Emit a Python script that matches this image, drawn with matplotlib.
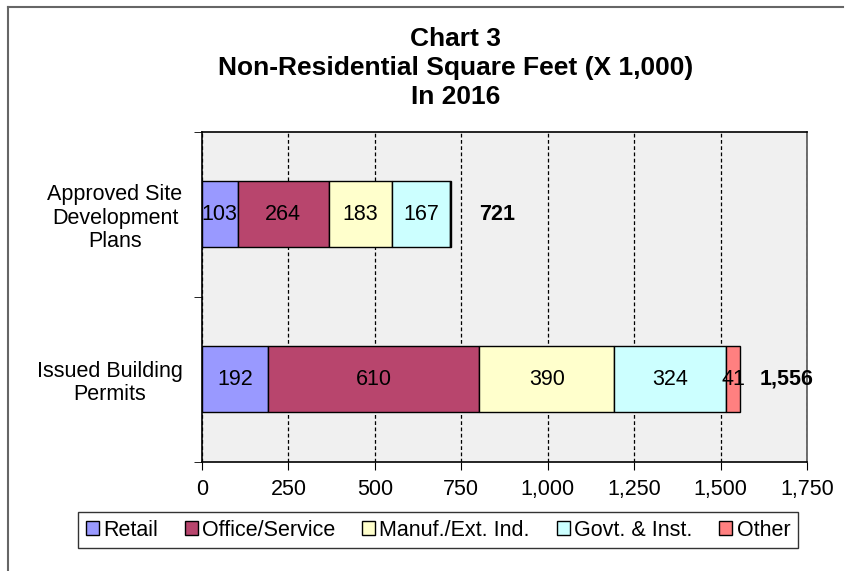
" chart 3: non-residential square feet by category, 2016 "
import numpy as np
import matplotlib.pyplot as plt
from matplotlib.lines import Line2D

plt.rcParams.update({'font.family': ['Liberation Sans', 'DejaVu Sans']})

categories = ["Issued Building\nPermits", "Approved Site\nDevelopment\nPlans"]
series = ["Retail", "Office/Service", "Manuf./Ext. Ind.", "Govt. & Inst.", "Other"]
retail = [192, 103]
office = [610, 264]
manuf = [390, 183]
govt = [324, 167]
other = [41, 4]
totals = ["1,556", "721"]
xticks = [0, 250, 500, 750, 1000, 1250, 1500, 1750]

clrs = ["#9999ff", "#b8456d", "#ffffcc", "#ccffff", "#ff8080"]

fig = plt.figure(figsize=(8.53, 5.71), dpi=100)
ax = fig.add_axes([0.2368, 0.1909, 0.7093, 0.578])
ax.set_facecolor("#f0f0f0")

y = np.arange(len(categories))
left = np.zeros(len(categories))
for name, vals, c in zip(series, [retail, office, manuf, govt, other], clrs):
    vals = np.array(vals, dtype=float)
    ax.barh(y, vals, left=left, height=0.4, color=c, edgecolor="black",
            linewidth=1, label=name, zorder=3)
    for yi, v, l in zip(y, vals, left):
        if v >= 10:
            ax.text(l + v / 2, yi, "%d" % v, ha="center", va="center",
                    fontsize=15.5, zorder=4)
    left += vals

for yi, l, t in zip(y, left, totals):
    ax.annotate(t, (l, yi), xytext=(33, 0), textcoords="offset points",
                ha="center", va="center", fontsize=15.5, fontweight="bold")

ax.set_xlim(0, 1750)
ax.set_ylim(-0.5, 1.5)
ax.set_xticks(xticks)
ax.set_xticklabels(["{:,}".format(v) for v in xticks], fontsize=15.5)
ax.set_yticks(y)
ax.set_yticklabels(categories, fontsize=15.5, multialignment="center",
                   linespacing=1.15)
ax.tick_params(axis="y", which="major", length=0, pad=14)
ax.set_yticks([-0.5, 0.5, 1.5], minor=True)
ax.tick_params(axis="y", which="minor", length=6, direction="out")
ax.tick_params(axis="x", length=6, direction="out", pad=6)
ax.xaxis.grid(True, linestyle=(0, (3, 2)), color="black", linewidth=0.9, zorder=1)
ax.set_axisbelow(True)
for s in ax.spines.values():
    s.set_linewidth(1.2)
    s.set_color("black")
ax.spines["right"].set_color("#555555")

fig.text(456 / 853, 1 - 68 / 571,
         "Chart 3\nNon-Residential Square Feet (X 1,000)\nIn 2016",
         ha="center", va="center", fontsize=19, fontweight="bold",
         linespacing=1.25)

leg = ax.legend(loc="center", bbox_to_anchor=(438 / 853, 1 - 530 / 571),
                bbox_transform=fig.transFigure, ncol=5, fontsize=15.5,
                frameon=True, fancybox=False, edgecolor="black",
                handlelength=0.6, handleheight=0.6, handletextpad=0.2,
                columnspacing=1.25, borderpad=0.35)
leg.get_frame().set_linewidth(1)

# outer chart border (left and top only)
fig.add_artist(Line2D([8 / 853, 8 / 853], [0, 1 - 7 / 571],
                      transform=fig.transFigure, color="#666666", linewidth=1.5))
fig.add_artist(Line2D([8 / 853, 843 / 853], [1 - 7 / 571, 1 - 7 / 571],
                      transform=fig.transFigure, color="#666666", linewidth=1.5))

fig.savefig("out.png", dpi=100)
